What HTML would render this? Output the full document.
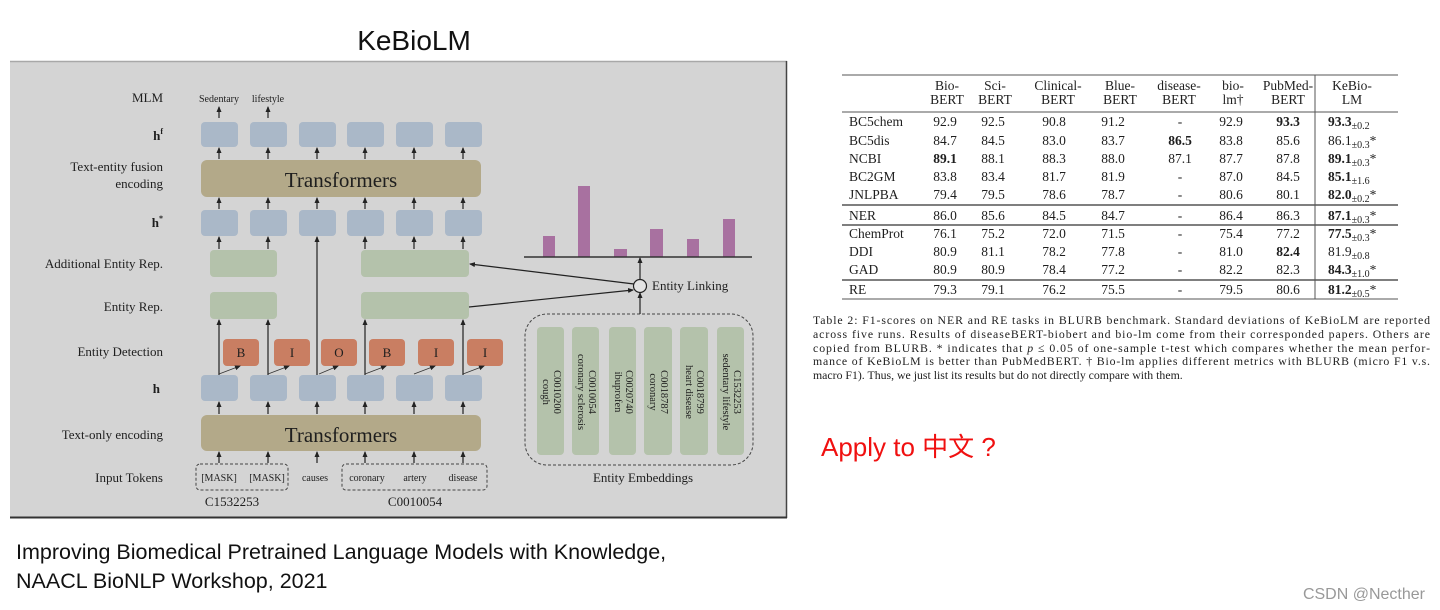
<!DOCTYPE html>
<html><head><meta charset="utf-8"><style>
html,body{margin:0;padding:0;background:#fff;width:1440px;height:610px;overflow:hidden}
svg{display:block}
.s{font-family:"Liberation Serif",serif;fill:#1e1e1e}
.a{font-family:"Liberation Sans",sans-serif}
</style></head><body>
<svg width="1440" height="610" viewBox="0 0 1440 610" xmlns="http://www.w3.org/2000/svg">
<defs>
<marker id="ar" markerWidth="6" markerHeight="6" refX="5" refY="3" orient="auto" markerUnits="userSpaceOnUse"><path d="M0,0.5 L6,3 L0,5.5 Z" fill="#222"/></marker>
</defs>
<text x="414" y="50" text-anchor="middle" class="a" font-size="28" fill="#111">KeBioLM</text>
<rect x="10" y="61" width="777" height="457" fill="#d4d4d4"/>
<line x1="10" y1="61.5" x2="787" y2="61.5" stroke="#a8a8a8" stroke-width="1.5"/>
<line x1="786.5" y1="61" x2="786.5" y2="518" stroke="#444" stroke-width="1.5"/>
<line x1="10" y1="517.5" x2="787" y2="517.5" stroke="#333" stroke-width="2"/>
<g class="s" font-size="13" text-anchor="end">
<text x="163" y="102">MLM</text>
<text x="163" y="140" font-weight="bold">h<tspan font-size="8" dy="-6">f</tspan></text>
<text x="163" y="171">Text-entity fusion</text>
<text x="163" y="188">encoding</text>
<text x="163" y="227" font-weight="bold">h<tspan font-size="8" dy="-6">*</tspan></text>
<text x="163" y="268">Additional Entity Rep.</text>
<text x="163" y="311">Entity Rep.</text>
<text x="163" y="356">Entity Detection</text>
<text x="160" y="393" font-weight="bold">h</text>
<text x="163" y="439">Text-only encoding</text>
<text x="163" y="482">Input Tokens</text>
</g>
<g class="s" font-size="10">
<text x="219" y="102" text-anchor="middle">Sedentary</text>
<text x="268" y="102" text-anchor="middle">lifestyle</text>
</g>
<g fill="#aab8c8">
<rect x="201" y="122" width="37" height="25" rx="4"/><rect x="250" y="122" width="37" height="25" rx="4"/><rect x="299" y="122" width="37" height="25" rx="4"/><rect x="347" y="122" width="37" height="25" rx="4"/><rect x="396" y="122" width="37" height="25" rx="4"/><rect x="445" y="122" width="37" height="25" rx="4"/>
<rect x="201" y="210" width="37" height="26" rx="4"/><rect x="250" y="210" width="37" height="26" rx="4"/><rect x="299" y="210" width="37" height="26" rx="4"/><rect x="347" y="210" width="37" height="26" rx="4"/><rect x="396" y="210" width="37" height="26" rx="4"/><rect x="445" y="210" width="37" height="26" rx="4"/>
<rect x="201" y="375" width="37" height="26" rx="4"/><rect x="250" y="375" width="37" height="26" rx="4"/><rect x="299" y="375" width="37" height="26" rx="4"/><rect x="347" y="375" width="37" height="26" rx="4"/><rect x="396" y="375" width="37" height="26" rx="4"/><rect x="445" y="375" width="37" height="26" rx="4"/>
</g>
<rect x="201" y="160" width="280" height="37" rx="6" fill="#b3a989"/>
<rect x="201" y="415" width="280" height="36" rx="6" fill="#b3a989"/>
<text x="341" y="187" text-anchor="middle" class="s" font-size="21">Transformers</text>
<text x="341" y="442" text-anchor="middle" class="s" font-size="21">Transformers</text>
<g fill="#b4c2ab">
<rect x="210" y="250" width="67" height="27" rx="4"/><rect x="361" y="250" width="108" height="27" rx="4"/>
<rect x="210" y="292" width="67" height="27" rx="4"/><rect x="361" y="292" width="108" height="27" rx="4"/>
</g>
<g fill="#c97e62">
<rect x="223" y="339" width="36" height="27" rx="4"/><rect x="274" y="339" width="36" height="27" rx="4"/><rect x="321" y="339" width="36" height="27" rx="4"/><rect x="369" y="339" width="36" height="27" rx="4"/><rect x="418" y="339" width="36" height="27" rx="4"/><rect x="467" y="339" width="36" height="27" rx="4"/>
</g>
<g class="s" font-size="13" text-anchor="middle">
<text x="241" y="357">B</text><text x="292" y="357">I</text><text x="339" y="357">O</text><text x="387" y="357">B</text><text x="436" y="357">I</text><text x="485" y="357">I</text>
</g>
<g stroke="#222" stroke-width="1.2" marker-end="url(#ar)">
<line x1="219" y1="118" x2="219" y2="107"/><line x1="268" y1="118" x2="268" y2="107"/>
<line x1="219" y1="159" x2="219" y2="148"/><line x1="268" y1="159" x2="268" y2="148"/><line x1="317" y1="159" x2="317" y2="148"/><line x1="365" y1="159" x2="365" y2="148"/><line x1="414" y1="159" x2="414" y2="148"/><line x1="463" y1="159" x2="463" y2="148"/>
<line x1="219" y1="209" x2="219" y2="198"/><line x1="268" y1="209" x2="268" y2="198"/><line x1="317" y1="209" x2="317" y2="198"/><line x1="365" y1="209" x2="365" y2="198"/><line x1="414" y1="209" x2="414" y2="198"/><line x1="463" y1="209" x2="463" y2="198"/>
<line x1="219" y1="249" x2="219" y2="237"/><line x1="268" y1="249" x2="268" y2="237"/><line x1="365" y1="249" x2="365" y2="237"/><line x1="414" y1="249" x2="414" y2="237"/><line x1="463" y1="249" x2="463" y2="237"/>
<line x1="317" y1="375" x2="317" y2="237"/>
<line x1="219" y1="375" x2="219" y2="320"/><line x1="268" y1="375" x2="268" y2="320"/><line x1="365" y1="375" x2="365" y2="320"/><line x1="463" y1="375" x2="463" y2="320"/>
<line x1="219" y1="414" x2="219" y2="402"/><line x1="268" y1="414" x2="268" y2="402"/><line x1="317" y1="414" x2="317" y2="402"/><line x1="365" y1="414" x2="365" y2="402"/><line x1="414" y1="414" x2="414" y2="402"/><line x1="463" y1="414" x2="463" y2="402"/>
<line x1="219" y1="463" x2="219" y2="452"/><line x1="268" y1="463" x2="268" y2="452"/><line x1="317" y1="463" x2="317" y2="452"/><line x1="365" y1="463" x2="365" y2="452"/><line x1="414" y1="463" x2="414" y2="452"/><line x1="463" y1="463" x2="463" y2="452"/>
</g>
<g stroke="#333" stroke-width="0.8" marker-end="url(#ar)">
<line x1="219" y1="374" x2="240" y2="366"/><line x1="268" y1="374" x2="289" y2="366"/><line x1="319" y1="374" x2="338" y2="366"/><line x1="365" y1="374" x2="386" y2="366"/><line x1="414" y1="374" x2="435" y2="366"/><line x1="463" y1="374" x2="484" y2="366"/>
</g>
<g fill="none" stroke="#444" stroke-width="1" stroke-dasharray="3,2">
<rect x="196" y="464" width="92" height="26" rx="4"/>
<rect x="342" y="464" width="145" height="26" rx="4"/>
<rect x="525" y="314" width="228" height="151" rx="22"/>
</g>
<g class="s" font-size="10" text-anchor="middle">
<text x="219" y="481">[MASK]</text><text x="267" y="481">[MASK]</text><text x="315" y="481">causes</text>
<text x="367" y="481">coronary</text><text x="415" y="481">artery</text><text x="463" y="481">disease</text>
</g>
<g class="s" font-size="13" text-anchor="middle">
<text x="232" y="506">C1532253</text><text x="415" y="506">C0010054</text>
</g>
<g fill="#a871a0">
<rect x="543" y="236" width="12" height="21"/><rect x="578" y="186" width="12" height="71"/><rect x="614" y="249" width="13" height="8"/><rect x="650" y="229" width="13" height="28"/><rect x="687" y="239" width="12" height="18"/><rect x="723" y="219" width="12" height="38"/>
</g>
<line x1="524" y1="257" x2="752" y2="257" stroke="#333" stroke-width="1.5"/>
<g stroke="#222" stroke-width="1.2" marker-end="url(#ar)">
<line x1="640" y1="280" x2="640" y2="258"/>
<line x1="640" y1="314" x2="640" y2="293"/>
<line x1="634" y1="284" x2="470" y2="264"/>
<line x1="469" y1="307" x2="633" y2="290"/>
</g>
<circle cx="640" cy="286" r="6.5" fill="#e4e4e4" stroke="#222" stroke-width="1.2"/>
<text x="652" y="290" class="s" font-size="13">Entity Linking</text>
<g fill="#b4c2ab">
<rect x="537" y="327" width="27" height="128" rx="4"/><rect x="572" y="327" width="27" height="128" rx="4"/><rect x="609" y="327" width="27" height="128" rx="4"/><rect x="644" y="327" width="28" height="128" rx="4"/><rect x="680" y="327" width="28" height="128" rx="4"/><rect x="717" y="327" width="27" height="128" rx="4"/>
</g>
<g class="s" font-size="10.5" text-anchor="middle">
<text transform="translate(553,392) rotate(90)"><tspan x="0" y="-1">C0010200</tspan><tspan x="0" y="10">cough</tspan></text>
<text transform="translate(588,392) rotate(90)"><tspan x="0" y="-1">C0010054</tspan><tspan x="0" y="10">coronary sclerosis</tspan></text>
<text transform="translate(625,392) rotate(90)"><tspan x="0" y="-1">C0020740</tspan><tspan x="0" y="10">ibuprofen</tspan></text>
<text transform="translate(660,392) rotate(90)"><tspan x="0" y="-1">C0018787</tspan><tspan x="0" y="10">coronary</tspan></text>
<text transform="translate(696,392) rotate(90)"><tspan x="0" y="-1">C0018799</tspan><tspan x="0" y="10">heart disease</tspan></text>
<text transform="translate(733,392) rotate(90)"><tspan x="0" y="-1">C1532253</tspan><tspan x="0" y="10">sedentary lifestyle</tspan></text>
</g>
<text x="643" y="482" text-anchor="middle" class="s" font-size="13">Entity Embeddings</text>
<g stroke="#555" stroke-width="1">
<line x1="842" y1="75" x2="1398" y2="75"/>
<line x1="842" y1="112" x2="1398" y2="112"/>
<line x1="842" y1="205" x2="1398" y2="205" stroke-width="1.5"/>
<line x1="842" y1="225" x2="1398" y2="225" stroke-width="1.5"/>
<line x1="842" y1="280" x2="1398" y2="280" stroke-width="1.5"/>
<line x1="842" y1="299" x2="1398" y2="299"/>
<line x1="1315" y1="75" x2="1315" y2="299"/>
</g>
<g class="s" font-size="13.5" text-anchor="middle">
<text x="947" y="90">Bio-</text><text x="947" y="104">BERT</text>
<text x="995" y="90">Sci-</text><text x="995" y="104">BERT</text>
<text x="1058" y="90">Clinical-</text><text x="1058" y="104">BERT</text>
<text x="1120" y="90">Blue-</text><text x="1120" y="104">BERT</text>
<text x="1179" y="90">disease-</text><text x="1179" y="104">BERT</text>
<text x="1233" y="90">bio-</text><text x="1233" y="104">lm†</text>
<text x="1288" y="90">PubMed-</text><text x="1288" y="104">BERT</text>
<text x="1352" y="90">KeBio-</text><text x="1352" y="104">LM</text>
</g>
<g class="s" font-size="13.5">
<g text-anchor="start">
<text x="849" y="126">BC5chem</text><text x="849" y="145">BC5dis</text><text x="849" y="163">NCBI</text><text x="849" y="181">BC2GM</text><text x="849" y="199">JNLPBA</text>
<text x="849" y="220">NER</text><text x="849" y="238">ChemProt</text><text x="849" y="256">DDI</text><text x="849" y="274">GAD</text><text x="849" y="294">RE</text>
</g>
<g text-anchor="middle">
<text y="126"><tspan x="945">92.9</tspan><tspan x="993">92.5</tspan><tspan x="1054">90.8</tspan><tspan x="1113">91.2</tspan><tspan x="1180">-</tspan><tspan x="1231">92.9</tspan><tspan x="1288" font-weight="bold">93.3</tspan></text>
<text y="145"><tspan x="945">84.7</tspan><tspan x="993">84.5</tspan><tspan x="1054">83.0</tspan><tspan x="1113">83.7</tspan><tspan x="1180" font-weight="bold">86.5</tspan><tspan x="1231">83.8</tspan><tspan x="1288">85.6</tspan></text>
<text y="163"><tspan x="945" font-weight="bold">89.1</tspan><tspan x="993">88.1</tspan><tspan x="1054">88.3</tspan><tspan x="1113">88.0</tspan><tspan x="1180">87.1</tspan><tspan x="1231">87.7</tspan><tspan x="1288">87.8</tspan></text>
<text y="181"><tspan x="945">83.8</tspan><tspan x="993">83.4</tspan><tspan x="1054">81.7</tspan><tspan x="1113">81.9</tspan><tspan x="1180">-</tspan><tspan x="1231">87.0</tspan><tspan x="1288">84.5</tspan></text>
<text y="199"><tspan x="945">79.4</tspan><tspan x="993">79.5</tspan><tspan x="1054">78.6</tspan><tspan x="1113">78.7</tspan><tspan x="1180">-</tspan><tspan x="1231">80.6</tspan><tspan x="1288">80.1</tspan></text>
<text y="220"><tspan x="945">86.0</tspan><tspan x="993">85.6</tspan><tspan x="1054">84.5</tspan><tspan x="1113">84.7</tspan><tspan x="1180">-</tspan><tspan x="1231">86.4</tspan><tspan x="1288">86.3</tspan></text>
<text y="238"><tspan x="945">76.1</tspan><tspan x="993">75.2</tspan><tspan x="1054">72.0</tspan><tspan x="1113">71.5</tspan><tspan x="1180">-</tspan><tspan x="1231">75.4</tspan><tspan x="1288">77.2</tspan></text>
<text y="256"><tspan x="945">80.9</tspan><tspan x="993">81.1</tspan><tspan x="1054">78.2</tspan><tspan x="1113">77.8</tspan><tspan x="1180">-</tspan><tspan x="1231">81.0</tspan><tspan x="1288" font-weight="bold">82.4</tspan></text>
<text y="274"><tspan x="945">80.9</tspan><tspan x="993">80.9</tspan><tspan x="1054">78.4</tspan><tspan x="1113">77.2</tspan><tspan x="1180">-</tspan><tspan x="1231">82.2</tspan><tspan x="1288">82.3</tspan></text>
<text y="294"><tspan x="945">79.3</tspan><tspan x="993">79.1</tspan><tspan x="1054">76.2</tspan><tspan x="1113">75.5</tspan><tspan x="1180">-</tspan><tspan x="1231">79.5</tspan><tspan x="1288">80.6</tspan></text>
</g>
<g text-anchor="start">
<text x="1328" y="126"><tspan font-weight="bold">93.3</tspan><tspan font-size="10" dy="3">±0.2</tspan></text>
<text x="1328" y="145">86.1<tspan font-size="10" dy="3">±0.3</tspan><tspan dy="-3">*</tspan></text>
<text x="1328" y="163"><tspan font-weight="bold">89.1</tspan><tspan font-size="10" dy="3">±0.3</tspan><tspan dy="-3">*</tspan></text>
<text x="1328" y="181"><tspan font-weight="bold">85.1</tspan><tspan font-size="10" dy="3">±1.6</tspan></text>
<text x="1328" y="199"><tspan font-weight="bold">82.0</tspan><tspan font-size="10" dy="3">±0.2</tspan><tspan dy="-3">*</tspan></text>
<text x="1328" y="220"><tspan font-weight="bold">87.1</tspan><tspan font-size="10" dy="3">±0.3</tspan><tspan dy="-3">*</tspan></text>
<text x="1328" y="238"><tspan font-weight="bold">77.5</tspan><tspan font-size="10" dy="3">±0.3</tspan><tspan dy="-3">*</tspan></text>
<text x="1328" y="256">81.9<tspan font-size="10" dy="3">±0.8</tspan></text>
<text x="1328" y="274"><tspan font-weight="bold">84.3</tspan><tspan font-size="10" dy="3">±1.0</tspan><tspan dy="-3">*</tspan></text>
<text x="1328" y="294"><tspan font-weight="bold">81.2</tspan><tspan font-size="10" dy="3">±0.5</tspan><tspan dy="-3">*</tspan></text>
</g>
</g>
<g class="s" font-size="11.8">
<text x="813" y="324" textLength="617" lengthAdjust="spacing">Table 2: F1-scores on NER and RE tasks in BLURB benchmark.  Standard deviations of KeBioLM are reported</text>
<text x="813" y="338" textLength="617" lengthAdjust="spacing">across five runs.  Results of diseaseBERT-biobert and bio-lm come from their corresponded papers.  Others are</text>
<text x="813" y="352" textLength="617" lengthAdjust="spacing">copied from BLURB. * indicates that <tspan font-style="italic">p</tspan> ≤ 0.05 of one-sample t-test which compares whether the mean perfor-</text>
<text x="813" y="365" textLength="617" lengthAdjust="spacing">mance of KeBioLM is better than PubMedBERT. † Bio-lm applies different metrics with BLURB (micro F1 v.s.</text>
<text x="813" y="379">macro F1). Thus, we just list its results but do not directly compare with them.</text>
</g>
<text x="821" y="456" font-family="Liberation Sans, 'Noto Sans CJK SC', sans-serif" font-size="26" fill="#f01010">Apply to 中文 ?</text>
<text x="16" y="559" class="a" font-size="21.5" fill="#111">Improving Biomedical Pretrained Language Models with Knowledge,</text>
<text x="16" y="588" class="a" font-size="21.5" fill="#111">NAACL BioNLP Workshop,  2021</text>
<text x="1425" y="599" text-anchor="end" class="a" font-size="16" fill="#999">CSDN @Necther</text>
</svg>
</body></html>
